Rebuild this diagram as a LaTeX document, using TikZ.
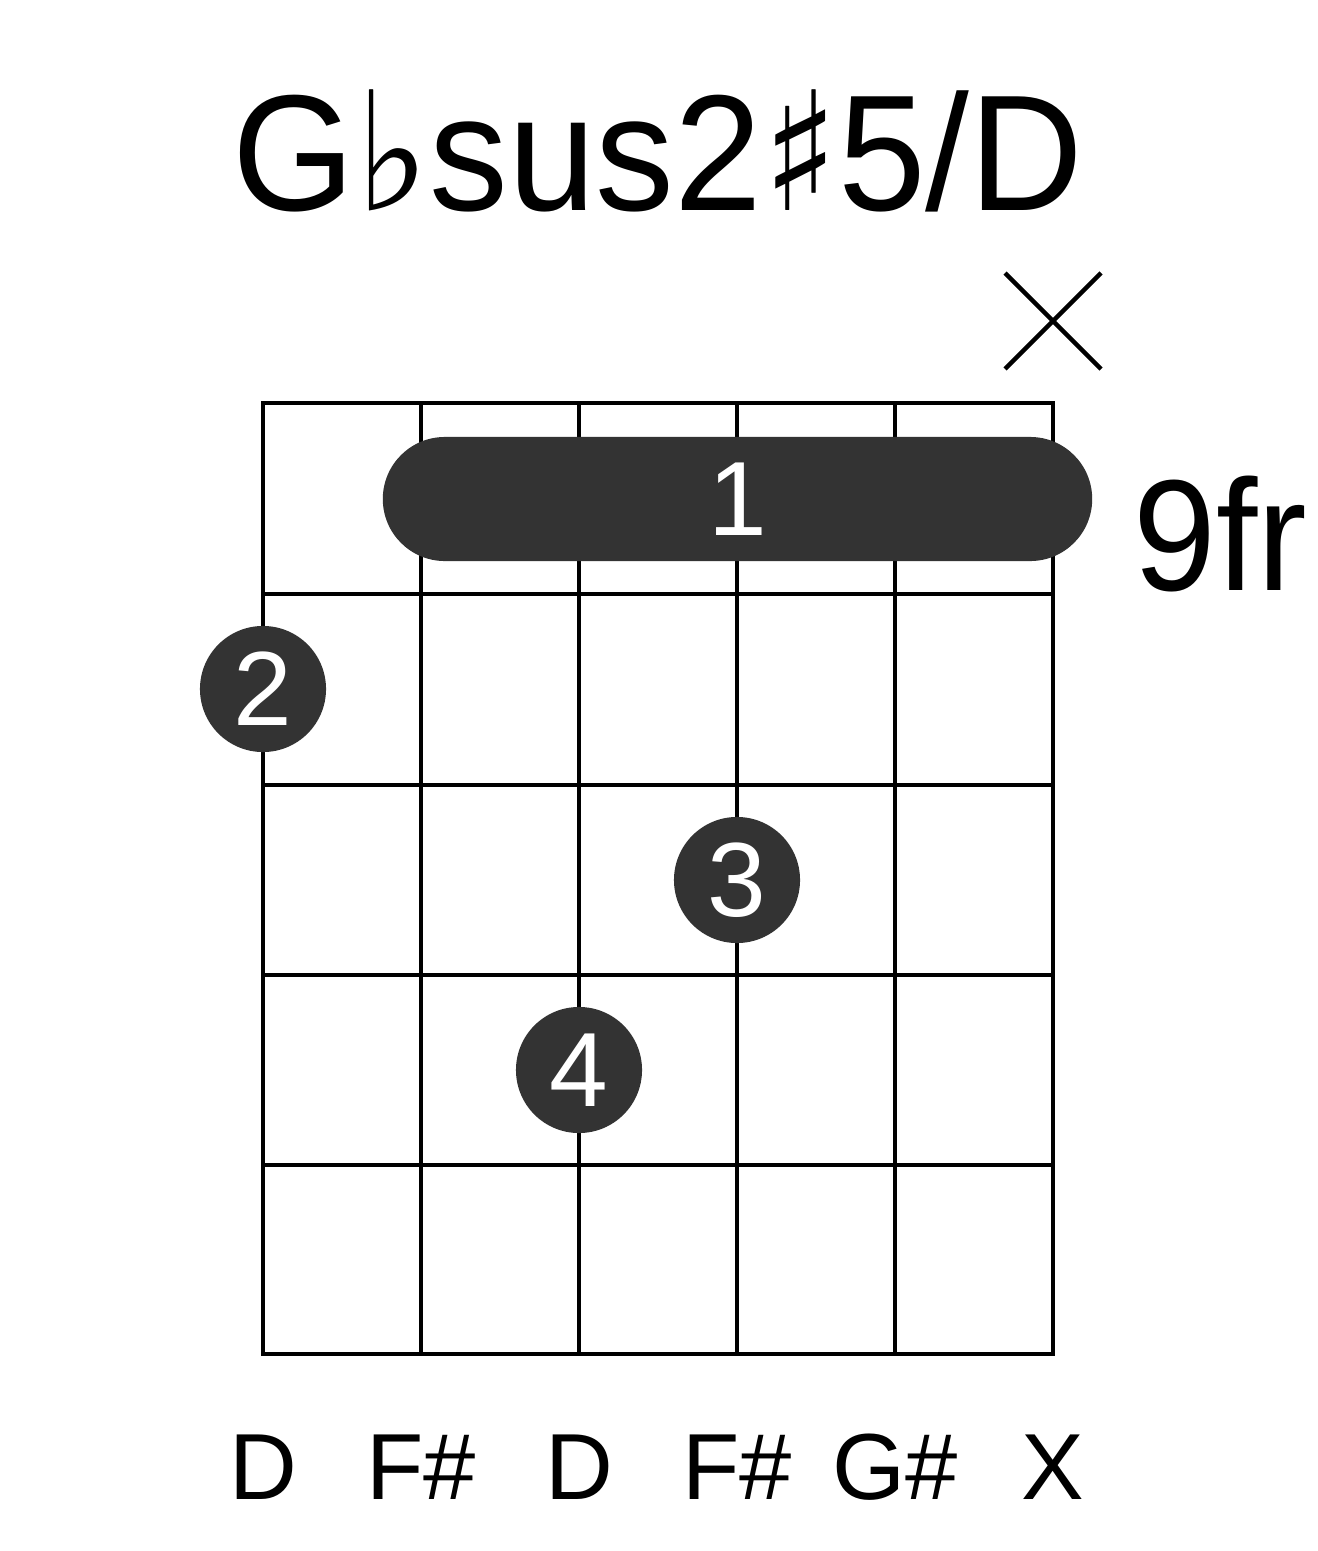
\documentclass[tikz,border=0pt]{standalone}
\usepackage{fontspec}
\setmainfont{Liberation Sans}
\newfontfamily\musicsym{DejaVu Sans}
\usepackage{xcolor}
\usepackage{tikz}
\usetikzlibrary{positioning}
\definecolor{dotgray}{RGB}{51,51,51}
\tikzset{
  fretline/.style={line width=1.4pt,draw=black},
  mutemark/.style={line width=1.25pt,draw=black},
  fingerdot/.style={circle,fill=dotgray,inner sep=0pt,minimum size=1.26cm,
    text=white,font=\fontsize{30pt}{36pt}\selectfont},
  barre/.style={rectangle,fill=dotgray,rounded corners=0.62cm,inner sep=0pt,
    minimum width=7.09cm,minimum height=1.24cm,
    text=white,font=\fontsize{30pt}{36pt}\selectfont},
  notelabel/.style={anchor=base,inner sep=0pt,font=\fontsize{26.7pt}{32pt}\selectfont}
}

\begin{document}
\begin{tikzpicture}[
  x=0.01cm,y=-0.01cm,
  chordname/.style={anchor=base,inner sep=0pt,xscale=0.953,font=\fontsize{47pt}{56pt}\selectfont},
  fretnum/.style={anchor=base west,inner sep=0pt,xscale=0.94,font=\fontsize{45pt}{54pt}\selectfont}
]
  \useasboundingbox (0,0) rectangle (1317,1551);

  % title
  \node[chordname] (title) at (658,210) {G{\musicsym ♭}sus2{\musicsym ♯}5/D};

  % grid
  \draw[fretline] (263,403) rectangle (1053,1354);
  \foreach \x in {421,579,737,895}{
    \draw[fretline] (\x,403) -- (\x,1354);
  }
  \foreach \y in {594,785,975,1165}{
    \draw[fretline] (263,\y) -- (1053,\y);
  }

  % muted string
  \draw[mutemark] (1005,273) -- (1101,369);
  \draw[mutemark] (1005,369) -- (1101,273);

  % fingers
  \node[barre] (barre1) at (737.5,499) {1};
  \node[fingerdot] (dot2) at (263,689) {2};
  \node[fingerdot] (dot3) at (737,880) {3};
  \node[fingerdot] (dot4) at (579,1070) {4};

  \node[fretnum] (fretpos) at (1133,590) {9fr};

  % notes
  \node[notelabel] (n1) at (263,1499) {D};
  \node[notelabel] (n2) at (421,1499) {F\#};
  \node[notelabel] (n3) at (579,1499) {D};
  \node[notelabel] (n4) at (737,1499) {F\#};
  \node[notelabel] (n5) at (895,1499) {G\#};
  \node[notelabel] (n6) at (1053,1499) {X};

\end{tikzpicture}
\end{document}
